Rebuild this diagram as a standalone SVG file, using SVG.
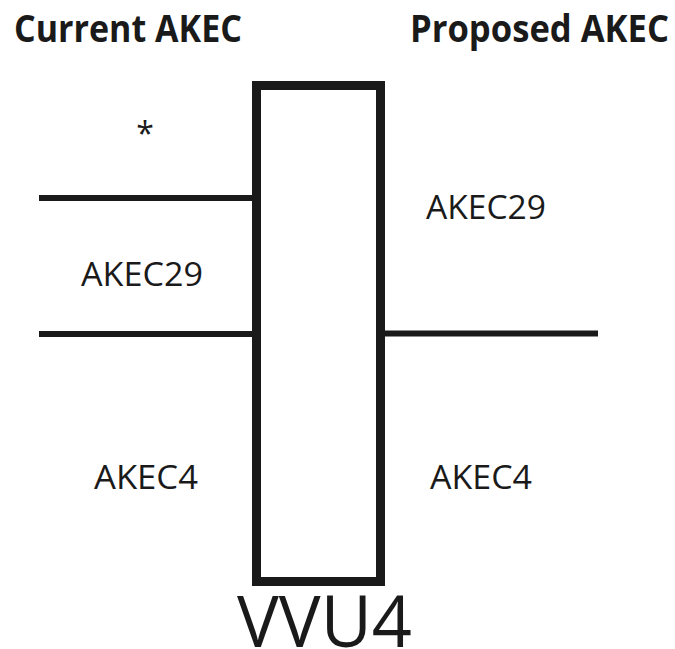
<svg xmlns="http://www.w3.org/2000/svg" width="675" height="649" viewBox="0 0 675 649">
<style>
.t{font-family:"Open Sans","Liberation Sans",sans-serif;fill:#1a1a1a}
.h{font-weight:bold;font-size:37px}
.l{font-size:33px}
.ln{stroke:#1a1a1a;stroke-width:6;fill:none}
</style>
<rect width="675" height="649" fill="#fff"/>
<g id="titles">
<text class="t h" x="14" y="42" textLength="228" lengthAdjust="spacingAndGlyphs">Current AKEC</text>
<text class="t h" x="410" y="42" textLength="259" lengthAdjust="spacingAndGlyphs">Proposed AKEC</text>
</g>
<g id="connectors">
<line class="ln" x1="39" y1="198" x2="256" y2="198"/>
<line class="ln" x1="39" y1="334" x2="256" y2="334"/>
<line class="ln" x1="381" y1="333.5" x2="598" y2="333.5"/>
</g>
<g id="vvu4">
<rect x="256.5" y="85.5" width="124" height="496" fill="none" stroke="#1a1a1a" stroke-width="9"/>
<text class="t" x="237" y="647" font-size="72" textLength="175" lengthAdjust="spacingAndGlyphs">VVU4</text>
</g>
<g id="labels">
<text class="t" x="145" y="145" font-size="32" text-anchor="middle">*</text>
<text class="t l" x="81" y="286" textLength="122" lengthAdjust="spacingAndGlyphs">AKEC29</text>
<text class="t l" x="426" y="219" textLength="120" lengthAdjust="spacingAndGlyphs">AKEC29</text>
<text class="t l" x="94" y="489" textLength="104" lengthAdjust="spacingAndGlyphs">AKEC4</text>
<text class="t l" x="430" y="489" textLength="102" lengthAdjust="spacingAndGlyphs">AKEC4</text>
</g>
</svg>
